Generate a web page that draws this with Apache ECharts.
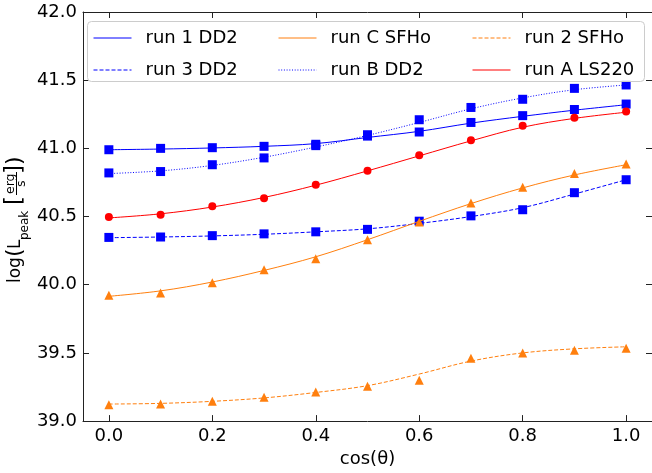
<!DOCTYPE html>
<html>
<head>
<meta charset="utf-8">
<script src="https://cdn.jsdelivr.net/npm/echarts@6/dist/echarts.min.js"></script>
<style>html,body{margin:0;padding:0;background:#fff}#c{width:652px;height:473px}</style>
</head>
<body>
<div id="c"></div>
<script>
const cosTheta = [0.0, 0.1, 0.2, 0.3, 0.4, 0.5, 0.6, 0.7, 0.8, 0.9, 1.0];
const xTicks = [0.0, 0.2, 0.4, 0.6, 0.8, 1.0];

const run1Pts = [40.99, 41.00, 41.005, 41.015, 41.03, 41.09, 41.12, 41.19, 41.24, 41.285, 41.325];
const run1Fit = [40.99, 40.995, 41.003, 41.015, 41.035, 41.08, 41.125, 41.185, 41.235, 41.28, 41.32];
const run3Pts = [40.347, 40.35, 40.36, 40.373, 40.388, 40.406, 40.466, 40.505, 40.55, 40.675, 40.77];
const run3Fit = [40.345, 40.35, 40.358, 40.37, 40.388, 40.41, 40.45, 40.5, 40.565, 40.665, 40.77];
const runCPts = [39.923, 39.94, 40.014, 40.11, 40.19, 40.33, 40.46, 40.60, 40.715, 40.815, 40.885];
const runCFit = [39.915, 39.955, 40.02, 40.105, 40.205, 40.33, 40.465, 40.595, 40.71, 40.805, 40.88];
const runBPts = [40.82, 40.83, 40.88, 40.93, 41.02, 41.10, 41.21, 41.30, 41.36, 41.44, 41.465];
const runBFit = [40.815, 40.835, 40.875, 40.935, 41.01, 41.095, 41.19, 41.29, 41.37, 41.43, 41.465];
const run2Pts = [39.12, 39.126, 39.146, 39.175, 39.214, 39.255, 39.30, 39.46, 39.50, 39.52, 39.535];
const run2Fit = [39.125, 39.13, 39.145, 39.17, 39.21, 39.26, 39.345, 39.44, 39.50, 39.53, 39.545];
const runAPts = [40.497, 40.514, 40.576, 40.635, 40.733, 40.835, 40.95, 41.06, 41.165, 41.225, 41.27];
const runAFit = [40.49, 40.52, 40.57, 40.64, 40.73, 40.835, 40.945, 41.055, 41.155, 41.22, 41.265];

const BLUE = '#0000ff', ORANGE = '#ff7f0e', RED = '#ff0000';
const DASH = [4, 2], DOT = [1, 1.7];
const FONT = 'DejaVu Sans';

const defs = [
  {name: 'run 1 DD2', fit: run1Fit, pts: run1Pts, color: BLUE, type: 'solid', symbol: 'rect', size: 9},
  {name: 'run 3 DD2', fit: run3Fit, pts: run3Pts, color: BLUE, type: DASH, symbol: 'rect', size: 9},
  {name: 'run C SFHo', fit: runCFit, pts: runCPts, color: ORANGE, type: 'solid', symbol: 'triangle', size: 9},
  {name: 'run B DD2', fit: runBFit, pts: runBPts, color: BLUE, type: DOT, symbol: 'rect', size: 9},
  {name: 'run 2 SFHo', fit: run2Fit, pts: run2Pts, color: ORANGE, type: DASH, symbol: 'triangle', size: 9},
  {name: 'run A LS220', fit: runAFit, pts: runAPts, color: RED, type: 'solid', symbol: 'circle', size: 8}
];

const series = [];
defs.forEach((d, i) => {
  series.push({
    name: d.name, type: 'line', smooth: 0.35, symbol: 'none', showSymbol: false,
    data: cosTheta.map((x, k) => [x, d.fit[k]]),
    lineStyle: {color: d.color, width: 1, type: d.type},
    itemStyle: {color: d.color}, z: 2 + i * 2
  });
  series.push({
    name: d.name + ' pts', type: 'scatter', symbol: d.symbol, symbolSize: d.size,
    data: cosTheta.map((x, k) => [x, d.pts[k]]),
    itemStyle: {color: d.color, opacity: 1}, z: 3 + i * 2
  });
});

const legendCommon = {
  orient: 'vertical', top: 29, padding: 0, itemWidth: 38, itemHeight: 14, itemGap: 14,
  itemStyle: {opacity: 0},
  lineStyle: {width: 1},
  textStyle: {fontFamily: FONT, fontSize: 18, color: '#000', padding: [0, 0, 0, 9]},
  z: 20
};

const axisLineStyle = {color: '#222', width: 1};
const labelStyle = {fontFamily: FONT, fontSize: 18, color: '#000'};

const chart = echarts.init(document.getElementById('c'), null, {renderer: 'canvas'});
chart.setOption({
  animation: false,
  backgroundColor: '#fff',
  grid: {left: 83, top: 12, width: 570, height: 411},
  xAxis: [{
    type: 'value', min: -0.05, max: 1.05, position: 'bottom',
    name: 'cos(θ)', nameLocation: 'middle', nameGap: 27,
    nameTextStyle: labelStyle,
    axisLine: {show: true, onZero: false, lineStyle: axisLineStyle},
    axisTick: {show: true, inside: true, length: 6, lineStyle: axisLineStyle, customValues: xTicks},
    axisLabel: {margin: 6, ...labelStyle, customValues: xTicks, formatter: v => v.toFixed(1)},
    splitLine: {show: false}
  }, {
    type: 'value', min: -0.05, max: 1.05, position: 'top',
    axisLine: {show: true, onZero: false, lineStyle: axisLineStyle},
    axisTick: {show: true, inside: true, length: 6, lineStyle: axisLineStyle, customValues: xTicks},
    axisLabel: {show: false}, splitLine: {show: false}
  }],
  yAxis: [{
    type: 'value', min: 39, max: 42, interval: 0.5, position: 'left',
    axisLine: {show: true, onZero: false, lineStyle: axisLineStyle},
    axisTick: {show: true, inside: true, length: 6, lineStyle: axisLineStyle},
    axisLabel: {margin: 6, ...labelStyle, formatter: v => v.toFixed(1)},
    splitLine: {show: false}
  }, {
    type: 'value', min: 39, max: 42, interval: 0.5, position: 'right',
    axisLine: {show: true, onZero: false, lineStyle: axisLineStyle},
    axisTick: {show: true, inside: true, length: 6, lineStyle: axisLineStyle},
    axisLabel: {show: false}, splitLine: {show: false}
  }],
  legend: [
    Object.assign({}, legendCommon, {left: 93, data: ['run 1 DD2', 'run 3 DD2']}),
    Object.assign({}, legendCommon, {left: 278, data: ['run C SFHo', 'run B DD2']}),
    Object.assign({}, legendCommon, {left: 472, data: ['run 2 SFHo', 'run A LS220']})
  ],
  graphic: [
    {type: 'rect', shape: {x: 87.5, y: 21.5, width: 557, height: 60, r: 4},
     style: {fill: 'rgba(255,255,255,0.85)', stroke: '#cccccc', lineWidth: 1}, z: 15},
    {type: 'text', x: 16, y: 283, rotation: Math.PI / 2,
     style: {text: 'log', font: '17px "DejaVu Sans"', fill: '#000', align: 'left', verticalAlign: 'middle'}, z: 20},
    {type: 'text', x: 15, y: 257, rotation: Math.PI / 2,
     style: {text: '(', font: '22px "DejaVu Sans"', fill: '#000', align: 'left', verticalAlign: 'middle'}, z: 20},
    {type: 'text', x: 16, y: 249, rotation: Math.PI / 2,
     style: {text: 'L', font: '17px "DejaVu Sans"', fill: '#000', align: 'left', verticalAlign: 'middle'}, z: 20},
    {type: 'text', x: 25, y: 240, rotation: Math.PI / 2,
     style: {text: 'peak', font: '12px "DejaVu Sans"', fill: '#000', align: 'left', verticalAlign: 'middle'}, z: 20},
    {type: 'text', x: 15, y: 205, rotation: Math.PI / 2,
     style: {text: '[', font: '23px "DejaVu Sans"', fill: '#000', align: 'left', verticalAlign: 'middle'}, z: 20},
    {type: 'text', x: 10.5, y: 194, rotation: Math.PI / 2,
     style: {text: 'erg', font: '12.5px "DejaVu Sans"', fill: '#000', align: 'left', verticalAlign: 'middle'}, z: 20},
    {type: 'line', shape: {x1: 16.5, y1: 195, x2: 16.5, y2: 172}, style: {stroke: '#000', lineWidth: 1}, z: 20},
    {type: 'text', x: 22, y: 187, rotation: Math.PI / 2,
     style: {text: 's', font: '12.5px "DejaVu Sans"', fill: '#000', align: 'left', verticalAlign: 'middle'}, z: 20},
    {type: 'text', x: 15, y: 174, rotation: Math.PI / 2,
     style: {text: ']', font: '23px "DejaVu Sans"', fill: '#000', align: 'left', verticalAlign: 'middle'}, z: 20},
    {type: 'text', x: 15, y: 165, rotation: Math.PI / 2,
     style: {text: ')', font: '22px "DejaVu Sans"', fill: '#000', align: 'left', verticalAlign: 'middle'}, z: 20}
  ],
  series: series
});
</script>
</body>
</html>
